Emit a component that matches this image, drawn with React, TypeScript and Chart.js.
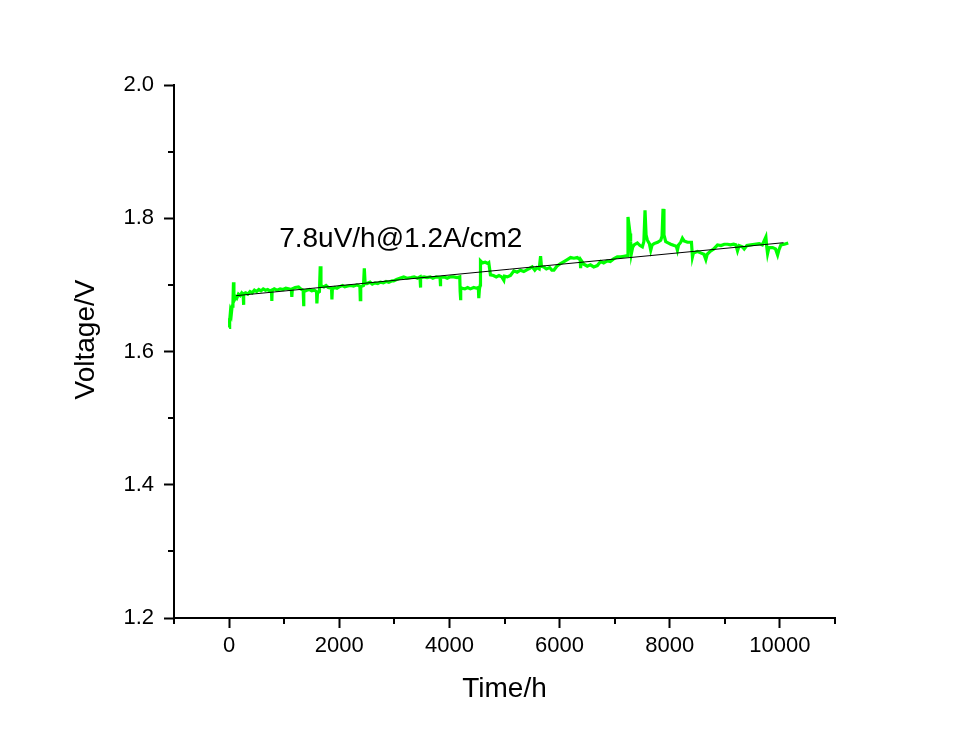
import React, { useEffect, useRef } from "react";
import { Chart, registerables } from "chart.js";

Chart.register(...registerables);

// ---- Data ----
const timeH: number[] = [
  0, 5, 15, 25, 40, 55, 70, 80, 88, 100, 120, 140, 170, 200, 230, 255, 262, 268, 300, 340,
  380, 420, 460, 500, 540, 580, 620, 660, 700, 740, 770, 776, 782, 820, 870, 927, 980, 1030, 1080, 1130,
  1139, 1148, 1200, 1261, 1300, 1345, 1352, 1360, 1412, 1460, 1500, 1550, 1588, 1594, 1605, 1640, 1655, 1668, 1685, 1720,
  1760, 1800, 1860, 1867, 1875, 1920, 1958, 2000, 2060, 2100, 2139, 2200, 2260, 2320, 2375, 2382, 2390, 2440, 2455, 2470,
  2503, 2560, 2600, 2650, 2700, 2745, 2800, 2850, 2900, 2960, 2988, 3040, 3100, 3170, 3230, 3300, 3360, 3420, 3466, 3473,
  3480, 3540, 3594, 3650, 3700, 3760, 3830, 3836, 3842, 3900, 3960, 4020, 4079, 4140, 4188, 4195, 4200, 4210, 4230, 4280,
  4330, 4380, 4442, 4490, 4525, 4533, 4545, 4560, 4564, 4600, 4650, 4700, 4715, 4745, 4800, 4850, 4900, 4950, 4988, 5000,
  5050, 5109, 5170, 5230, 5290, 5350, 5412, 5460, 5503, 5550, 5590, 5630, 5655, 5670, 5715, 5760, 5820, 5860, 5897, 5950,
  6018, 6080, 6140, 6200, 6260, 6320, 6375, 6382, 6390, 6440, 6503, 6560, 6620, 6685, 6745, 6800, 6867, 6920, 6980, 7048,
  7109, 7170, 7230, 7242, 7260, 7279, 7290, 7303, 7325, 7352, 7412, 7460, 7503, 7530, 7551, 7570, 7594, 7630, 7655, 7680,
  7715, 7780, 7836, 7860, 7878, 7895, 7927, 7970, 8018, 8080, 8120, 8139, 8160, 8200, 8230, 8260, 8321, 8394, 8412, 8430,
  8503, 8560, 8620, 8655, 8680, 8745, 8800, 8867, 8930, 8990, 9048, 9100, 9160, 9200, 9230, 9260, 9320, 9352, 9400, 9473,
  9540, 9624, 9680, 9745, 9760, 9776, 9800, 9867, 9920, 9958, 9980, 10018, 10080, 10151,
];

const voltageV: number[] = [
  1.636, 1.650, 1.645, 1.660, 1.656, 1.668, 1.672, 1.704, 1.676, 1.678, 1.682, 1.680, 1.686, 1.684, 1.688, 1.686, 1.670, 1.687, 1.688, 1.686,
  1.690, 1.688, 1.692, 1.690, 1.693, 1.691, 1.694, 1.692, 1.693, 1.691, 1.692, 1.676, 1.692, 1.694, 1.692, 1.694, 1.693, 1.695, 1.694, 1.693,
  1.682, 1.694, 1.696, 1.697, 1.694, 1.692, 1.668, 1.690, 1.692, 1.693, 1.691, 1.692, 1.690, 1.672, 1.688, 1.690, 1.728, 1.700, 1.698, 1.697,
  1.699, 1.696, 1.695, 1.678, 1.694, 1.696, 1.695, 1.697, 1.699, 1.697, 1.698, 1.699, 1.698, 1.700, 1.698, 1.678, 1.697, 1.699, 1.725, 1.702,
  1.702, 1.704, 1.701, 1.703, 1.702, 1.704, 1.703, 1.705, 1.704, 1.706, 1.706, 1.708, 1.710, 1.712, 1.710, 1.711, 1.712, 1.710, 1.712, 1.696,
  1.711, 1.712, 1.711, 1.712, 1.710, 1.712, 1.711, 1.698, 1.711, 1.712, 1.710, 1.712, 1.712, 1.711, 1.712, 1.690, 1.677, 1.696, 1.695, 1.694,
  1.696, 1.694, 1.696, 1.695, 1.696, 1.680, 1.694, 1.700, 1.736, 1.733, 1.734, 1.732, 1.733, 1.715, 1.714, 1.712, 1.714, 1.712, 1.707, 1.713,
  1.712, 1.714, 1.721, 1.719, 1.722, 1.720, 1.723, 1.725, 1.727, 1.722, 1.726, 1.724, 1.743, 1.728, 1.727, 1.724, 1.726, 1.722, 1.722, 1.728,
  1.732, 1.735, 1.738, 1.741, 1.740, 1.741, 1.738, 1.725, 1.737, 1.731, 1.728, 1.730, 1.727, 1.729, 1.735, 1.733, 1.736, 1.735, 1.739, 1.742,
  1.742, 1.743, 1.744, 1.802, 1.790, 1.777, 1.765, 1.747, 1.756, 1.760, 1.763, 1.759, 1.757, 1.765, 1.812, 1.775, 1.767, 1.762, 1.752, 1.760,
  1.762, 1.764, 1.767, 1.773, 1.814, 1.775, 1.765, 1.763, 1.761, 1.759, 1.758, 1.752, 1.760, 1.764, 1.770, 1.766, 1.764, 1.764, 1.742, 1.748,
  1.750, 1.748, 1.746, 1.738, 1.746, 1.751, 1.754, 1.760, 1.759, 1.761, 1.761, 1.760, 1.761, 1.760, 1.751, 1.759, 1.757, 1.754, 1.759, 1.760,
  1.761, 1.762, 1.760, 1.772, 1.758, 1.747, 1.756, 1.756, 1.754, 1.745, 1.752, 1.760, 1.761, 1.763,
];

// linear fit line
const fitTimeH: number[] = [127, 10067];
const fitVoltageV: number[] = [1.6838, 1.7633];

// axes
const xMin = -1000;
const xMax = 11000;
const xStep = 1000;
const xMajorStep = 2000;
const yMin = 1.2;
const yMax = 2.0;
const yStep = 0.1;

const xTitle = "Time/h";
const yTitle = "Voltage/V";
const annotationText = "7.8uV/h@1.2A/cm2";
const annotationAt = { x: 909, y: 1.7568 };

const FONT = '"Liberation Sans", Arial, Helvetica, sans-serif';

const isMajorX = (v: number) => Math.round(v) % xMajorStep === 0;
const isMajorY = (v: number) => Math.round(v * 10) % 2 === 0;

const originPlugin = {
  id: "originDecor",
  afterDraw(chart: any) {
    const { ctx, chartArea } = chart;
    const xs = chart.scales.x;
    const ys = chart.scales.y;
    ctx.save();
    ctx.strokeStyle = "#000";
    ctx.lineWidth = 2;
    ctx.beginPath();
    for (let v = xMin; v <= xMax + 1e-6; v += xStep) {
      if (isMajorX(v)) continue;
      const px = Math.round(xs.getPixelForValue(v));
      ctx.moveTo(px, chartArea.bottom);
      ctx.lineTo(px, chartArea.bottom + 6);
    }
    for (let i = 0; i <= Math.round((yMax - yMin) / yStep); i++) {
      const v = yMin + i * yStep;
      if (isMajorY(v)) continue;
      const py = Math.round(ys.getPixelForValue(v));
      ctx.moveTo(chartArea.left - 6, py);
      ctx.lineTo(chartArea.left, py);
    }
    ctx.stroke();

    ctx.fillStyle = "#000";
    ctx.font = `28px ${FONT}`;
    ctx.textBaseline = "alphabetic";
    ctx.textAlign = "center";
    ctx.fillText(xTitle, (chartArea.left + chartArea.right) / 2, chartArea.bottom + 79);

    ctx.save();
    ctx.translate(chartArea.left - 80.5, (chartArea.top + chartArea.bottom) / 2 - 12);
    ctx.rotate(-Math.PI / 2);
    ctx.fillText(yTitle, 0, 0);
    ctx.restore();

    ctx.textAlign = "left";
    ctx.fillText(
      annotationText,
      xs.getPixelForValue(annotationAt.x),
      ys.getPixelForValue(annotationAt.y)
    );
    ctx.restore();
  },
};

export default function App() {
  const canvasRef = useRef<HTMLCanvasElement | null>(null);

  useEffect(() => {
    const canvas = canvasRef.current;
    if (!canvas) return;
    const chart = new Chart(canvas, {
      type: "line",
      data: {
        datasets: [
          {
            label: "fit",
            data: fitTimeH.map((t, i) => ({ x: t, y: fitVoltageV[i] })),
            borderColor: "#000000",
            borderWidth: 1,
            pointRadius: 0,
            tension: 0,
            fill: false,
            order: 0,
          },
          {
            label: "voltage",
            data: timeH.map((t, i) => ({ x: t, y: voltageV[i] })),
            borderColor: "#00FF00",
            borderWidth: 3.2,
            borderJoinStyle: "miter",
            pointRadius: 0,
            tension: 0,
            fill: false,
            order: 1,
          },
        ],
      },
      options: {
        animation: false,
        responsive: false,
        devicePixelRatio: 1,
        layout: { padding: { left: 0, top: 85, right: 137, bottom: 0 } },
        plugins: {
          legend: { display: false },
          tooltip: { enabled: false },
        },
        scales: {
          x: {
            type: "linear",
            min: xMin,
            max: xMax,
            afterFit: (scale: any) => {
              scale.height = 126;
            },
            ticks: {
              stepSize: xStep,
              autoSkip: false,
              maxRotation: 0,
              padding: 5,
              color: "#000",
              font: { family: FONT, size: 22 },
              callback: (v: any) => (isMajorX(Number(v)) ? String(v) : ""),
            },
            grid: {
              drawOnChartArea: false,
              drawTicks: true,
              tickLength: 10,
              tickWidth: 2,
              tickColor: (c: any) =>
                c.tick && isMajorX(c.tick.value) ? "#000" : "rgba(0,0,0,0)",
            },
            border: { display: true, color: "#000", width: 2 },
          },
          y: {
            type: "linear",
            min: yMin,
            max: yMax,
            afterFit: (scale: any) => {
              scale.width = 174;
            },
            ticks: {
              stepSize: yStep,
              autoSkip: false,
              padding: 10,
              color: "#000",
              font: { family: FONT, size: 22 },
              callback: (v: any) => (isMajorY(Number(v)) ? Number(v).toFixed(1) : ""),
            },
            grid: {
              drawOnChartArea: false,
              drawTicks: true,
              tickLength: 10,
              tickWidth: 2,
              tickColor: (c: any) =>
                c.tick && isMajorY(c.tick.value) ? "#000" : "rgba(0,0,0,0)",
            },
            border: { display: true, color: "#000", width: 2 },
          },
        },
      },
      plugins: [originPlugin],
    });
    return () => chart.destroy();
  }, []);

  return (
    <div style={{ position: "absolute", left: 0, top: 0, width: 972, height: 744, background: "#fff" }}>
      <canvas ref={canvasRef} width={972} height={744} style={{ width: 972, height: 744, display: "block" }} />
    </div>
  );
}
